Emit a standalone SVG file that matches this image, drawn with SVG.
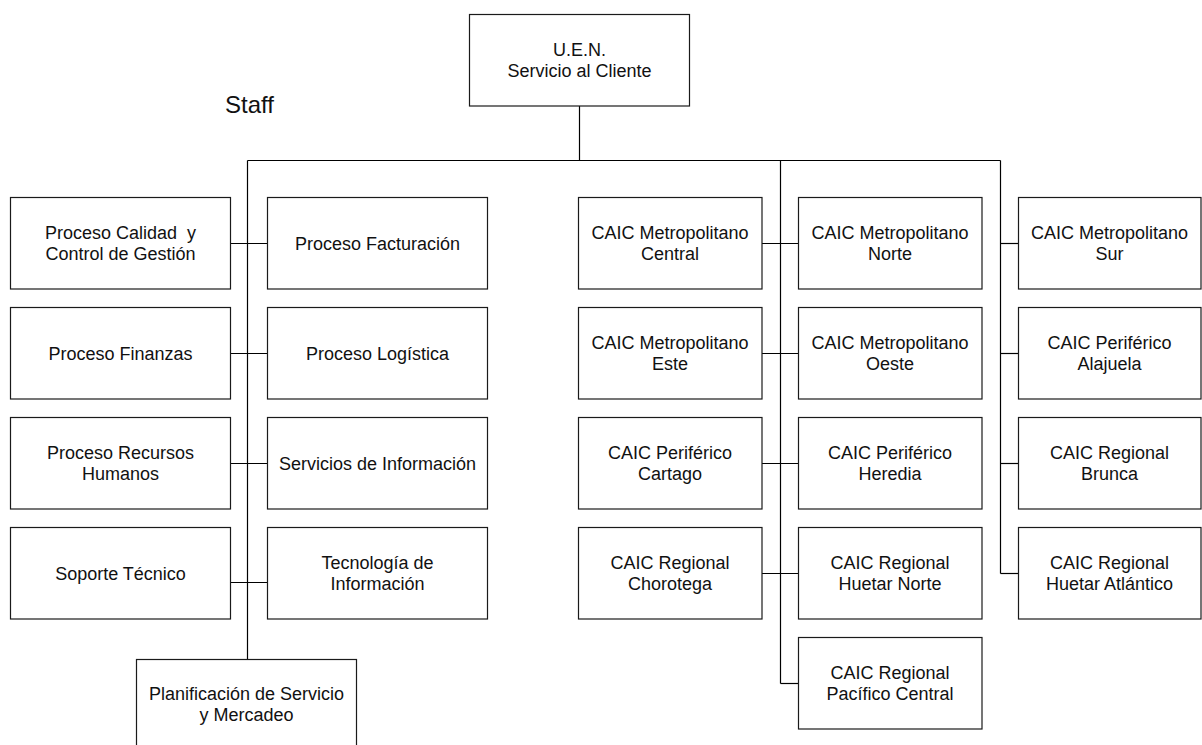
<svg xmlns="http://www.w3.org/2000/svg" width="1202" height="745" viewBox="0 0 1202 745">
  <style>
    .box rect { fill: #ffffff; stroke: #1a1a1a; stroke-width: 1.2; }
    .box text { font-family: "Liberation Sans", Arial, sans-serif; font-size: 18px; fill: #111; text-anchor: middle; }
    .conn line { stroke: #000; stroke-width: 1.2; }
    .label { font-family: "Liberation Sans", Arial, sans-serif; font-size: 24px; fill: #111; }
  </style>
  <rect width="1202" height="745" fill="#ffffff"/>

  <!-- connectors -->
  <g id="connectors" class="conn">
    <line x1="579.5" y1="106" x2="579.5" y2="160.5"/>
    <line x1="247.5" y1="160.5" x2="1000.5" y2="160.5"/>
    <!-- staff spine -->
    <line x1="247.5" y1="160.5" x2="247.5" y2="659"/>
    <line x1="230.5" y1="243.5" x2="267.5" y2="243.5"/>
    <line x1="230.5" y1="353.5" x2="267.5" y2="353.5"/>
    <line x1="230.5" y1="463.5" x2="267.5" y2="463.5"/>
    <line x1="230.5" y1="582.5" x2="267.5" y2="582.5"/>
    <!-- CAIC middle spine -->
    <line x1="780.5" y1="160.5" x2="780.5" y2="683.5"/>
    <line x1="762" y1="243.5" x2="798.5" y2="243.5"/>
    <line x1="762" y1="353.5" x2="798.5" y2="353.5"/>
    <line x1="762" y1="463.5" x2="798.5" y2="463.5"/>
    <line x1="762" y1="573.5" x2="798.5" y2="573.5"/>
    <line x1="780.5" y1="683.5" x2="798.5" y2="683.5"/>
    <!-- CAIC right spine -->
    <line x1="1000.5" y1="160.5" x2="1000.5" y2="573.5"/>
    <line x1="1000.5" y1="243.5" x2="1018.5" y2="243.5"/>
    <line x1="1000.5" y1="353.5" x2="1018.5" y2="353.5"/>
    <line x1="1000.5" y1="463.5" x2="1018.5" y2="463.5"/>
    <line x1="1000.5" y1="573.5" x2="1018.5" y2="573.5"/>
  </g>

  <text class="label" x="225" y="113">Staff</text>

  <g id="uen" class="box">
    <rect x="469.5" y="14.5" width="220" height="91.5"/>
    <text x="579.5" y="56">U.E.N.</text>
    <text x="579.5" y="77">Servicio al Cliente</text>
  </g>

  <!-- staff units, left column -->
  <g id="calidad" class="box">
    <rect x="10.5" y="197.5" width="220" height="91.5"/>
    <text x="120.5" y="239" xml:space="preserve">Proceso Calidad  y</text>
    <text x="120.5" y="260">Control de Gestión</text>
  </g>
  <g id="finanzas" class="box">
    <rect x="10.5" y="307.5" width="220" height="91.5"/>
    <text x="120.5" y="359.5">Proceso Finanzas</text>
  </g>
  <g id="rrhh" class="box">
    <rect x="10.5" y="417.5" width="220" height="91.5"/>
    <text x="120.5" y="459">Proceso Recursos</text>
    <text x="120.5" y="480">Humanos</text>
  </g>
  <g id="soporte" class="box">
    <rect x="10.5" y="527.5" width="220" height="91.5"/>
    <text x="120.5" y="579.5">Soporte Técnico</text>
  </g>

  <!-- staff units, right column -->
  <g id="facturacion" class="box">
    <rect x="267.5" y="197.5" width="220" height="91.5"/>
    <text x="377.5" y="249.5">Proceso Facturación</text>
  </g>
  <g id="logistica" class="box">
    <rect x="267.5" y="307.5" width="220" height="91.5"/>
    <text x="377.5" y="359.5">Proceso Logística</text>
  </g>
  <g id="servicios-info" class="box">
    <rect x="267.5" y="417.5" width="220" height="91.5"/>
    <text x="377.5" y="469.5">Servicios de Información</text>
  </g>
  <g id="tecnologia" class="box">
    <rect x="267.5" y="527.5" width="220" height="91.5"/>
    <text x="377.5" y="569">Tecnología de</text>
    <text x="377.5" y="590">Información</text>
  </g>
  <g id="planificacion" class="box">
    <rect x="136.5" y="659.5" width="220" height="91.5"/>
    <text x="246.5" y="700">Planificación de Servicio</text>
    <text x="246.5" y="721">y Mercadeo</text>
  </g>

  <!-- CAIC column 1 -->
  <g id="caic-central" class="box">
    <rect x="578.5" y="197.5" width="183.5" height="91.5"/>
    <text x="670" y="239">CAIC Metropolitano</text>
    <text x="670" y="260">Central</text>
  </g>
  <g id="caic-este" class="box">
    <rect x="578.5" y="307.5" width="183.5" height="91.5"/>
    <text x="670" y="349">CAIC Metropolitano</text>
    <text x="670" y="370">Este</text>
  </g>
  <g id="caic-cartago" class="box">
    <rect x="578.5" y="417.5" width="183.5" height="91.5"/>
    <text x="670" y="459">CAIC Periférico</text>
    <text x="670" y="480">Cartago</text>
  </g>
  <g id="caic-chorotega" class="box">
    <rect x="578.5" y="527.5" width="183.5" height="91.5"/>
    <text x="670" y="569">CAIC Regional</text>
    <text x="670" y="590">Chorotega</text>
  </g>

  <!-- CAIC column 2 -->
  <g id="caic-norte" class="box">
    <rect x="798.5" y="197.5" width="183.5" height="91.5"/>
    <text x="890" y="239">CAIC Metropolitano</text>
    <text x="890" y="260">Norte</text>
  </g>
  <g id="caic-oeste" class="box">
    <rect x="798.5" y="307.5" width="183.5" height="91.5"/>
    <text x="890" y="349">CAIC Metropolitano</text>
    <text x="890" y="370">Oeste</text>
  </g>
  <g id="caic-heredia" class="box">
    <rect x="798.5" y="417.5" width="183.5" height="91.5"/>
    <text x="890" y="459">CAIC Periférico</text>
    <text x="890" y="480">Heredia</text>
  </g>
  <g id="caic-huetar-norte" class="box">
    <rect x="798.5" y="527.5" width="183.5" height="91.5"/>
    <text x="890" y="569">CAIC Regional</text>
    <text x="890" y="590">Huetar Norte</text>
  </g>
  <g id="caic-pacifico" class="box">
    <rect x="798.5" y="637.5" width="183.5" height="91.5"/>
    <text x="890" y="679">CAIC Regional</text>
    <text x="890" y="700">Pacífico Central</text>
  </g>

  <!-- CAIC column 3 -->
  <g id="caic-sur" class="box">
    <rect x="1018.5" y="197.5" width="182.5" height="91.5"/>
    <text x="1109.5" y="239">CAIC Metropolitano</text>
    <text x="1109.5" y="260">Sur</text>
  </g>
  <g id="caic-alajuela" class="box">
    <rect x="1018.5" y="307.5" width="182.5" height="91.5"/>
    <text x="1109.5" y="349">CAIC Periférico</text>
    <text x="1109.5" y="370">Alajuela</text>
  </g>
  <g id="caic-brunca" class="box">
    <rect x="1018.5" y="417.5" width="182.5" height="91.5"/>
    <text x="1109.5" y="459">CAIC Regional</text>
    <text x="1109.5" y="480">Brunca</text>
  </g>
  <g id="caic-huetar-atlantico" class="box">
    <rect x="1018.5" y="527.5" width="182.5" height="91.5"/>
    <text x="1109.5" y="569">CAIC Regional</text>
    <text x="1109.5" y="590">Huetar Atlántico</text>
  </g>
</svg>
